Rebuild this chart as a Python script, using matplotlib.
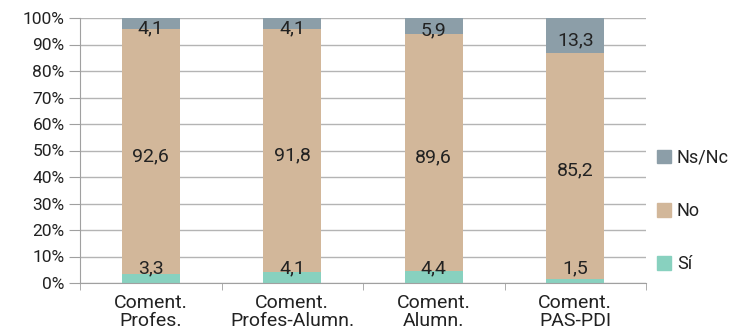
import numpy as np
import matplotlib
matplotlib.use("Agg")
import matplotlib.pyplot as plt
from matplotlib.patches import Patch

categories = ["Coment.\nProfes.", "Coment.\nProfes-Alumn.", "Coment.\nAlumn.", "Coment.\nPAS-PDI"]
si = [3.3, 4.1, 4.4, 1.5]
no = [92.6, 91.8, 89.6, 85.2]
nsnc = [4.1, 4.1, 5.9, 13.3]
fmt = lambda v: f"{v:.1f}".replace(".", ",")

plt.rcParams['font.family'] = ['Roboto', 'DejaVu Sans']
c_si, c_no, c_ns = "#88d1bf", "#d2b79a", "#8c9ea8"
txt = "#222222"
fs = 14

fig = plt.figure(figsize=(7.33, 3.36), dpi=100)
ax = fig.add_axes([80/733, 1-283/336, (646-80)/733, (283-18)/336])

x = np.arange(len(categories))
si_a, no_a, ns_a = np.array(si), np.array(no), np.array(nsnc)
w = 0.41
ax.bar(x, si_a, w, color=c_si, zorder=2)
ax.bar(x, no_a, w, bottom=si_a, color=c_no, zorder=2)
ax.bar(x, ns_a, w, bottom=si_a + no_a, color=c_ns, zorder=2)

for i in range(len(x)):
    ax.text(x[i], 5.7, fmt(si[i]), ha="center", va="center", fontsize=fs, color=txt, zorder=3)
    ax.text(x[i], si[i] + no[i] / 2 - 1.7, fmt(no[i]), ha="center", va="center", fontsize=fs, color=txt, zorder=3)
    ax.text(x[i], si[i] + no[i] + nsnc[i] / 2 - 1.7, fmt(nsnc[i]), ha="center", va="center", fontsize=fs, color=txt, zorder=3)

ax.set_xlim(-0.5, len(x) - 0.5)
ax.set_ylim(0, 100)
ax.set_yticks(np.arange(0, 101, 10))
ax.set_yticklabels([f"{v}%" for v in range(0, 101, 10)], fontsize=12.5, color=txt)
ax.yaxis.grid(True, color="#b4b4b4", linewidth=1, zorder=0)
ax.set_xticks(x)
ax.set_xticklabels(categories, fontsize=fs, color=txt, linespacing=0.98)
ax.set_xticks(np.arange(-0.5, len(x)), minor=True)
ax.tick_params(axis="x", which="major", length=0, pad=8)
ax.tick_params(axis="x", which="minor", length=5, color="#a0a0a0")
ax.tick_params(axis="y", length=8, color="#a0a0a0", pad=3)
for s in ["top", "right"]:
    ax.spines[s].set_visible(False)
for s in ["left", "bottom"]:
    ax.spines[s].set_color("#a0a0a0")

handles = [Patch(color=c_ns), Patch(color=c_no), Patch(color=c_si)]
leg = fig.legend(handles, ["Ns/Nc", "No", "Sí"], loc="center left", bbox_to_anchor=(657/733, 1-211/336),
                 frameon=False, fontsize=13, labelspacing=1.95, handlelength=0.8, handleheight=0.8,
                 handletextpad=0.3, borderpad=0, borderaxespad=0)
for t in leg.get_texts():
    t.set_color(txt)

fig.savefig("out.png", dpi=100)
